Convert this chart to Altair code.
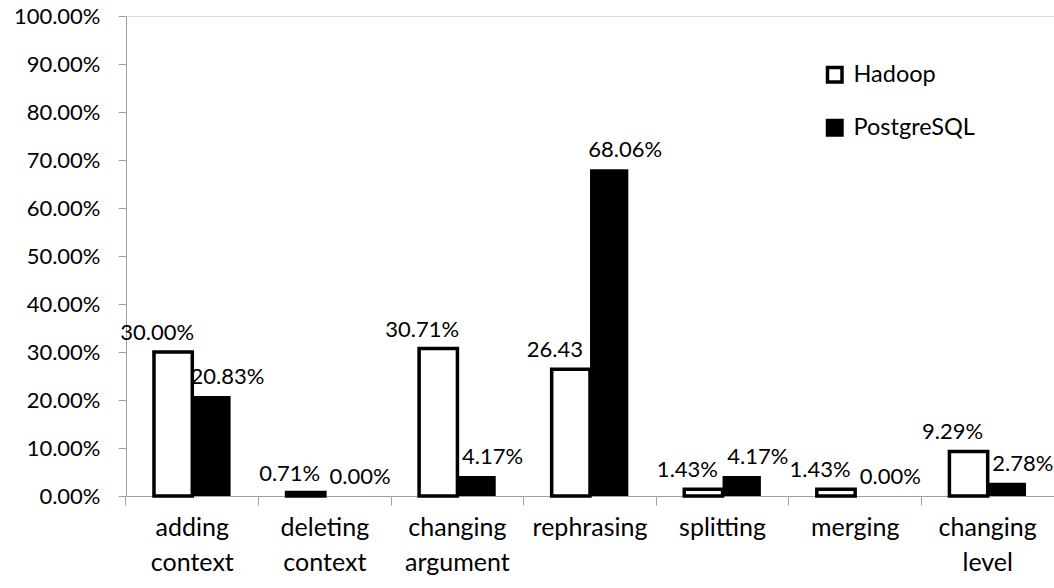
import altair as alt
import pandas as pd

categories = ["adding context", "deleting context", "changing argument", "rephrasing",
              "splitting", "merging", "changing level"]
series = ["Hadoop", "PostgreSQL"]
hadoop = [0.3000, 0.0071, 0.3071, 0.2643, 0.0143, 0.0143, 0.0929]
postgres = [0.2083, 0.0000, 0.0417, 0.6806, 0.0417, 0.0000, 0.0278]
hadoop_labels = ["30.00%", "0.71%", "30.71%", "26.43", "1.43%", "1.43%", "9.29%"]
postgres_labels = ["20.83%", "0.00%", "4.17%", "68.06%", "4.17%", "0.00%", "2.78%"]
y_ticks = [0.0, 0.1, 0.2, 0.3, 0.4, 0.5, 0.6, 0.7, 0.8, 0.9, 1.0]

rows = []
for c, h, hl in zip(categories, hadoop, hadoop_labels):
    rows.append({"category": c, "series": series[0], "value": h, "label": hl})
for c, p, pl in zip(categories, postgres, postgres_labels):
    rows.append({"category": c, "series": series[1], "value": p, "label": pl})
df = pd.DataFrame(rows)

FONT = "Lato"
AX = "#a0a0a0"

x_enc = alt.X(
    "category:N", sort=categories,
    scale=alt.Scale(paddingInner=0, paddingOuter=0),
    axis=alt.Axis(title=None, labelAngle=0, labelExpr="split(datum.label, ' ')",
                  bandPosition=0, ticks=True, tickSize=9, tickColor=AX, domainColor=AX,
                  labelPadding=10, labelFontSize=25, labelLineHeight=35,
                  labelColor="black", labelFont=FONT, grid=False),
)
xo_enc = alt.XOffset("series:N", scale=alt.Scale(domain=series, paddingOuter=0.73, paddingInner=0))
y_enc = alt.Y(
    "value:Q", scale=alt.Scale(domain=[0, 1], nice=False),
    axis=alt.Axis(title=None, values=y_ticks, format=".2%", tickSize=8, tickColor=AX,
                  domainColor=AX, labelPadding=18, labelFontSize=22, labelColor="black",
                  labelFont=FONT, grid=False),
)

bars = alt.Chart(df).mark_bar(stroke="black").encode(
    x=x_enc, xOffset=xo_enc, y=y_enc,
    strokeWidth=alt.condition(alt.datum.series == series[0], alt.value(3.5), alt.value(0)),
    color=alt.Color("series:N", scale=alt.Scale(domain=series, range=["white", "black"]),
                    legend=alt.Legend(title=None, orient="none", legendX=697, legendY=47,
                                      symbolType="square", symbolSize=210,
                                      symbolStrokeColor="black", symbolStrokeWidth=3.5,
                                      labelFontSize=23.5, labelFont=FONT, labelColor="black",
                                      rowPadding=24, labelOffset=7)),
)

text_h = alt.Chart(df).transform_filter(alt.datum.series == series[0]).mark_text(
    baseline="bottom", dy=-7, dx=-16, fontSize=22, font=FONT, color="black"
).encode(x=x_enc, xOffset=xo_enc, y=y_enc, text="label:N")

text_p = alt.Chart(df).transform_filter(alt.datum.series == series[1]).mark_text(
    baseline="bottom", dy=-7, dx=16, fontSize=22, font=FONT, color="black"
).encode(x=x_enc, xOffset=xo_enc, y=y_enc, text="label:N")

chart = alt.layer(bars, text_h, text_p).properties(
    width=928, height=480,
    autosize=alt.AutoSizeParams(type="none"),
    padding={"left": 126, "top": 16, "right": 0, "bottom": 92},
).configure_view(stroke=None).configure(background="white")

chart.save("out.html", embed_options={"renderer": "svg", "actions": False})
